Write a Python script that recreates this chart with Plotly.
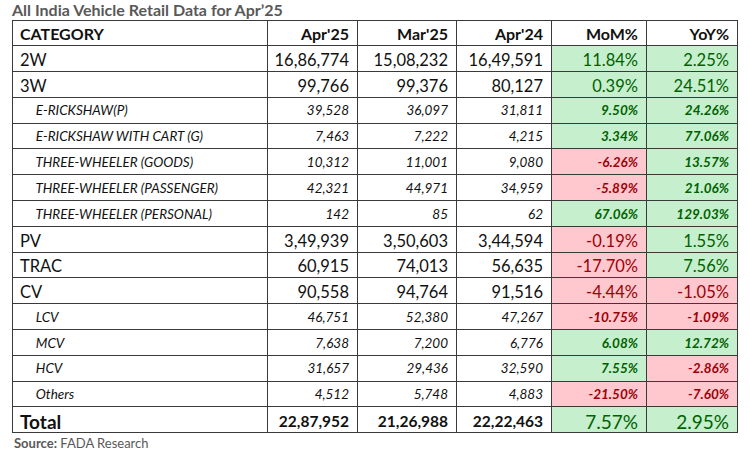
import plotly.graph_objects as go

# --- data ---
categories = ["2W", "3W", "E-RICKSHAW(P)", "E-RICKSHAW WITH CART (G)",
              "THREE-WHEELER (GOODS)", "THREE-WHEELER (PASSENGER)",
              "THREE-WHEELER (PERSONAL)", "PV", "TRAC", "CV",
              "LCV", "MCV", "HCV", "Others", "Total"]
is_sub = [False, False, True, True, True, True, True, False, False, False,
          True, True, True, True, False]
apr25 = [1686774, 99766, 39528, 7463, 10312, 42321, 142, 349939, 60915,
         90558, 46751, 7638, 31657, 4512, 2287952]
mar25 = [1508232, 99376, 36097, 7222, 11001, 44971, 85, 350603, 74013,
         94764, 52380, 7200, 29436, 5748, 2126988]
apr24 = [1649591, 80127, 31811, 4215, 9080, 34959, 62, 344594, 56635,
         91516, 47267, 6776, 32590, 4883, 2222463]
mom = [11.84, 0.39, 9.50, 3.34, -6.26, -5.89, 67.06, -0.19, -17.70,
       -4.44, -10.75, 6.08, 7.55, -21.50, 7.57]
yoy = [2.25, 24.51, 24.26, 77.06, 13.57, 21.06, 129.03, 1.55, 7.56,
       -1.05, -1.09, 12.72, -2.86, -7.60, 2.95]
headers = ["CATEGORY", "Apr'25", "Mar'25", "Apr'24", "MoM%", "YoY%"]

GREEN_BG, GREEN_FG = "#c6efce", "#006100"
RED_BG, RED_FG = "#ffc7ce", "#9c0006"
LINE = "#3a3a3a"
FONT = "Lato"
COLW = [255, 90, 99, 95, 95, 91]
ALIGN = ["left"] + ["right"] * 5

W, H = 750, 450
MT, MB = 20, 17
N_ROWS = len(categories) + 1
ROW_H = (H - MT - MB) / N_ROWS
PLOT_H = H - MT - MB


def indian(n):
    s = str(n)
    if len(s) <= 3:
        return s
    head, tail = s[:-3], s[-3:]
    parts = []
    while len(head) > 2:
        parts.insert(0, head[-2:])
        head = head[:-2]
    if head:
        parts.insert(0, head)
    return ",".join(parts) + "," + tail


def row_values(i):
    pad = "\u00a0" * 5 if is_sub[i] else ""
    return [pad + categories[i], indian(apr25[i]), indian(mar25[i]),
            indian(apr24[i]), f"{mom[i]:.2f}%", f"{yoy[i]:.2f}%"]


def row_colors(i):
    fills, fg = ["white"] * 4, ["#111111"] * 4
    for v in (mom[i], yoy[i]):
        fills.append(GREEN_BG if v >= 0 else RED_BG)
        fg.append(GREEN_FG if v >= 0 else RED_FG)
    return fills, fg


def block_font(i):
    if is_sub[i]:
        return dict(size=13.5, style="italic",
                    weight=["normal"] * 4 + ["bold"] * 2)
    if categories[i] == "Total":
        return dict(size=[19, 15.5, 15.5, 15.5, 19, 19], style="normal",
                    weight=["bold"] * 4 + ["normal"] * 2)
    return dict(size=16.5, style="normal", weight="normal")


fig = go.Figure()


def add_block(idx, row0, first=False):
    """one table per run of rows sharing a style; the run's first row is the header"""
    f = block_font(idx[0])
    if first:
        head_vals = headers
        head_fill = "white"
        head_font = dict(family=FONT, size=16, color="#111111", weight="bold")
        body = idx
    else:
        head_vals = row_values(idx[0])
        head_fill, fg = row_colors(idx[0])
        head_font = dict(family=FONT, color=fg, **f)
        body = idx[1:]
    cols = [[row_values(i)[c] for i in body] for c in range(6)]
    fills = [[row_colors(i)[0][c] for i in body] for c in range(6)]
    fgs = [[row_colors(i)[1][c] for i in body] for c in range(6)]
    nrows = len(idx) + (1 if first else 0)
    top = 1 - row0 * ROW_H / PLOT_H
    bot = 1 - (row0 + nrows) * ROW_H / PLOT_H
    fig.add_trace(go.Table(
        columnwidth=COLW,
        header=dict(values=head_vals, align=ALIGN, font=head_font,
                    fill_color=head_fill, line=dict(color=LINE, width=1),
                    height=ROW_H),
        cells=dict(values=cols, align=ALIGN,
                   font=dict(family=FONT, color=fgs, **f),
                   fill_color=fills, line=dict(color=LINE, width=1),
                   height=ROW_H),
        domain=dict(x=[0, 1], y=[max(bot, 0), min(top + 0.0005, 1)]),
    ))
    return row0 + nrows


# group consecutive rows sharing the same style
blocks = []
for i in range(len(categories)):
    key = (is_sub[i], categories[i] == "Total")
    if blocks and blocks[-1][0] == key:
        blocks[-1][1].append(i)
    else:
        blocks.append((key, [i]))

r = 0
for b, (_, idx) in enumerate(blocks):
    r = add_block(idx, r, first=(b == 0))

fig.update_layout(
    width=W, height=H,
    margin=dict(l=12, r=13, t=MT, b=MB),
    paper_bgcolor="white",
    title=dict(text="All India Vehicle Retail Data for Apr’25",
               x=0.016, xanchor="left", y=0.978, yanchor="middle",
               font=dict(family=FONT, size=16, color="#595959", weight="bold")),
    annotations=[dict(
        text="<b>Source:</b> FADA Research", xref="paper", yref="paper",
        x=0, y=0.0, xanchor="left", yanchor="top", showarrow=False,
        font=dict(family=FONT, size=13, color="#595959"),
    )],
)

fig.write_html("out.html", config={"displayModeBar": False},
               post_script="document.body.style.margin='0';")
